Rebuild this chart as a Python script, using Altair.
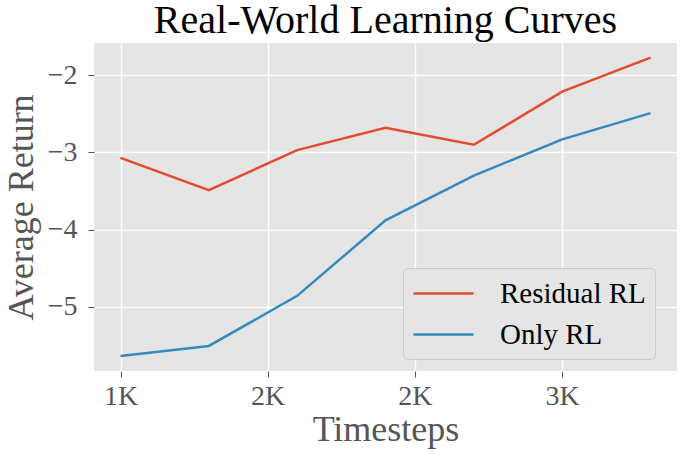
import altair as alt
import pandas as pd

timesteps = [1000, 1300, 1600, 1900, 2200, 2500, 2800]
residual_rl = [-3.07, -3.49, -2.97, -2.68, -2.90, -2.21, -1.77]
only_rl = [-5.64, -5.51, -4.86, -3.88, -3.30, -2.83, -2.49]
series_names = ["Residual RL", "Only RL"]
series_colors = ["#E24A33", "#348ABD"]
x_ticks = [1000, 1500, 2000, 2500]
y_ticks = [-5, -4, -3, -2]

rows = []
for name, vals in zip(series_names, [residual_rl, only_rl]):
    for t, v in zip(timesteps, vals):
        rows.append({"Timesteps": t, "Average Return": v, "Method": name})
df = pd.DataFrame(rows)

FONT = "Liberation Serif"

chart = alt.Chart(df).mark_line(strokeWidth=2.5).encode(
    x=alt.X("Timesteps:Q",
            scale=alt.Scale(domain=[910, 2890], nice=False, zero=False),
            axis=alt.Axis(values=x_ticks, labelExpr='ceil(datum.value/1000) + "K"',
                          title="Timesteps")),
    y=alt.Y("Average Return:Q",
            scale=alt.Scale(domain=[-5.835, -1.58], nice=False, zero=False),
            axis=alt.Axis(values=y_ticks, format="d", title="Average Return")),
    color=alt.Color("Method:N",
                    scale=alt.Scale(domain=series_names, range=series_colors),
                    sort=series_names,
                    legend=alt.Legend(title=None, orient="none", legendX=309, legendY=225,
                                      symbolType="M-1,0H3", symbolSize=900,
                                      symbolStrokeWidth=2.5,
                                      labelFont=FONT, labelFontSize=29, labelColor="#000000",
                                      labelOffset=55, fillColor="#E5E5E5",
                                      strokeColor="#CCCCCC", cornerRadius=5,
                                      padding=9, rowPadding=9)),
).properties(
    width=583, height=328,
    title=alt.TitleParams("Real-World Learning Curves", font=FONT, fontSize=40,
                          fontWeight="normal", color="#000000", anchor="middle",
                          baseline="bottom", offset=-38),
    autosize=alt.AutoSizeParams(type="none"),
    padding={"left": 94, "top": 43, "right": 3, "bottom": 84},
).configure_view(
    fill="#E5E5E5", stroke=None
).configure_axis(
    domain=False, grid=True, gridColor="#FFFFFF", gridWidth=1.5,
    tickColor="#555555", tickSize=6, tickWidth=1,
    labelFont=FONT, labelFontSize=28, labelColor="#555555",
    titleFont=FONT, titleFontSize=36, titleColor="#555555", titleFontWeight="normal",
).configure_axisX(titlePadding=2, labelPadding=5).configure_axisY(titlePadding=7, labelPadding=11)

chart.save("out.html", embed_options={"renderer": "svg", "actions": False})
